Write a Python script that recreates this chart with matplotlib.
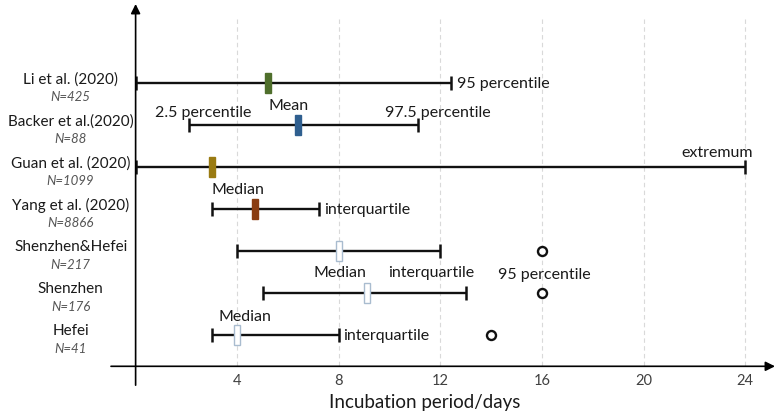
import numpy as np
import matplotlib
matplotlib.use('Agg')
from matplotlib import pyplot as plt

plt.rcParams['font.family'] = ['Lato', 'DejaVu Sans']

# Data #
studies = ['Li et al. (2020)', 'Backer et al.(2020)', 'Guan et al. (2020)',
           'Yang et al. (2020)', 'Shenzhen&Hefei', 'Shenzhen', 'Hefei']
sizes = ['N=425', 'N=88', 'N=1099', 'N=8866', 'N=217', 'N=176', 'N=41']
low = [0, 2.1, 0, 3.0, 4, 5, 3]
high = [12.4, 11.1, 24, 7.2, 12, 13, 8]
center = [5.2, 6.4, 3.0, 4.7, 8, 9.1, 4]
p95 = [None, None, None, None, 16, 16, 14]
mark_colors = ['#4f6f2c', '#2f5f8f', '#9a7b12', '#8a3d12', 'white', 'white', 'white']
ticks = [4, 8, 12, 16, 20, 24]

rows = np.arange(len(studies))

# Figure #
fig = plt.figure(figsize=(7.78, 4.14), dpi=100)
W, H = 778.0, 414.0
ax = fig.add_axes([111 / W, (H - 367.3) / H, (775 - 111) / W, (367.3 - 5) / H])
ax.set_xlim(-0.969, 25.17)
ax.set_ylim(6.75, -1.89)
for s in ax.spines.values():
    s.set_visible(False)

# grid #
ax.vlines(ticks, -1.53, 6.75, colors='#d9d9d9', linestyles=(0, (4, 3)), lw=0.8, zorder=0)

# axes with arrows #
ax.annotate('', xy=(1, 0), xytext=(0, 0), xycoords='axes fraction',
            arrowprops=dict(arrowstyle='-|>', color='black', lw=1.2, mutation_scale=14,
                            shrinkA=0, shrinkB=0))
ax.annotate('', xy=(0, -1.89), xytext=(0, 7.2), xycoords='data', annotation_clip=False,
            arrowprops=dict(arrowstyle='-|>', color='black', lw=1.2, mutation_scale=14,
                            shrinkA=0, shrinkB=0))

# ranges #
for i in rows:
    ax.errorbar(center[i], rows[i], xerr=[[center[i] - low[i]], [high[i] - center[i]]],
                fmt='none', ecolor='#111111', elinewidth=1.7, capsize=5, capthick=1.8, zorder=2)
    ax.bar(center[i], 0.48, width=0.24, bottom=rows[i] - 0.24, color=mark_colors[i],
           edgecolor='#a9bccf' if mark_colors[i] == 'white' else mark_colors[i],
           lw=1.0, zorder=3)
    if p95[i] is not None:
        ax.plot(p95[i], rows[i], 'o', ms=6.5, mfc='white', mec='#111111', mew=1.7, zorder=3)

# x ticks #
ax.set_xticks(ticks)
ax.set_xticklabels([str(t) for t in ticks], fontsize=10.5, color='#404040')
ax.tick_params(axis='x', length=0, pad=5)
ax.set_yticks([])
ax.set_xlabel('Incubation period/days', fontsize=13.5, color='#1a1a1a')
ax.xaxis.set_label_coords(0.473, -0.075)

# row labels #
for i in rows:
    ax.text(-2.55, rows[i] - 0.12, studies[i], ha='center', va='center', fontsize=11,
            color='#1a1a1a', clip_on=False)
    ax.text(-2.56, rows[i] + 0.31, sizes[i], ha='center', va='center', fontsize=9.5,
            style='italic', color='#555555', clip_on=False)

# notes #
kw = dict(fontsize=11.5, color='#1a1a1a', va='center')
ax.text(12.65, 0, '95 percentile', ha='left', **kw)
ax.text(2.67, 0.685, '2.5 percentile', ha='center', **kw)
ax.text(6.04, 0.52, 'Mean', ha='center', **kw)
ax.text(11.9, 0.685, '97.5 percentile', ha='center', **kw)
ax.text(22.9, 1.64, 'extremum', ha='center', **kw)
ax.text(4.03, 2.52, 'Median', ha='center', **kw)
ax.text(7.42, 3, 'interquartile', ha='left', **kw)
ax.text(8.05, 4.5, 'Median', ha='center', **kw)
ax.text(11.63, 4.5, 'interquartile', ha='center', **kw)
ax.text(16.08, 4.55, '95 percentile', ha='center', **kw)
ax.text(4.31, 5.56, 'Median', ha='center', **kw)
ax.text(8.17, 6, 'interquartile', ha='left', **kw)

fig.savefig('out.png', dpi=100)
